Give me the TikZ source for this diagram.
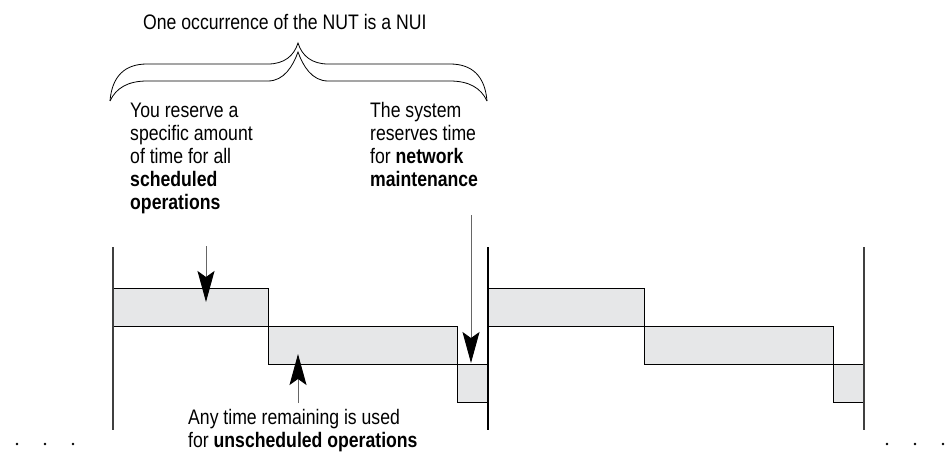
\documentclass[tikz,border=0pt]{standalone}
\usepackage{fontspec}
\setmainfont[FakeStretch=0.84]{Liberation Sans}
\usetikzlibrary{arrows.meta}
\definecolor{boxgray}{HTML}{E6E7E8}
\begin{document}
\begin{tikzpicture}[x=1pt,y=-1pt,
  lbl/.style={font=\fontsize{21}{23}\selectfont, inner sep=0pt, anchor=base west, align=left},
  slot/.style={fill=boxgray, draw=black, line width=0.9pt},
  rail/.style={draw=black!75, line width=1.1pt},
  midrail/.style={draw=black, line width=2.6pt},
  ptr/.style={draw=black!60, line width=0.9pt, -{Stealth[length=31pt,width=17pt,inset=6pt,color=black]}},
  bracestroke/.style={draw=black, line width=0.8pt},
  dotmark/.style={fill=black}]
\useasboundingbox (0,0) rectangle (948,452);

% texts (base anchor = baseline of the last line)
\node[lbl] (title) at (143,30) {One occurrence of the NUT is a NUI};
\node[lbl] (you) at (130,209) {You reserve a\\specific amount\\of time for all\\\textbf{scheduled}\\\textbf{operations}};
\node[lbl] (sys) at (370,186) {The system\\reserves time\\for \textbf{network}\\\textbf{maintenance}};
\node[lbl] (any) at (188,447) {Any time remaining is used\\for \textbf{unscheduled operations}};

% brace (outline)
\draw[bracestroke] (110,101) .. controls (112,76) and (125,64) .. (147,64) -- (268,64)
  .. controls (284,64) and (294,56) .. (298,43)
  .. controls (302,56) and (312,64) .. (328,64) -- (450,64)
  .. controls (472,64) and (485,76) .. (487,101);
\draw[bracestroke] (110,101) .. controls (116,88) and (128,81) .. (147,81) -- (268,81)
  .. controls (284,81) and (293,66) .. (298,52)
  .. controls (303,66) and (312,81) .. (328,81) -- (450,81)
  .. controls (469,81) and (481,88) .. (487,101);

% slots
\draw[slot] (113,288) rectangle (268,326);
\draw[slot] (268,326) rectangle (457,364);
\draw[slot] (457,364) rectangle (488,402);
\draw[slot] (488,288) rectangle (644,326);
\draw[slot] (644,326) rectangle (833,364);
\draw[slot] (833,364) rectangle (864,402);

% rails
\coordinate (l1) at (113,247); \coordinate (l2) at (113,430);
\coordinate (m1) at (488,247); \coordinate (m2) at (488,430);
\coordinate (r1) at (864,247); \coordinate (r2) at (864,430);
\draw[rail] (l1) -- (l2);
\draw[rail] (r1) -- (r2);
\draw[midrail] (m1) -- (m2);

% arrows
\coordinate (a1s) at (206,246); \coordinate (a1t) at (206,302);
\coordinate (a2s) at (471,215); \coordinate (a2t) at (471,363);
\coordinate (a3s) at (298,403); \coordinate (a3t) at (298,354);
\draw[ptr] (a1s) -- (a1t);
\draw[ptr] (a2s) -- (a2t);
\draw[ptr] (a3s) -- (a3t);

% dots
\foreach \x in {17,45,73,887,915,943} \fill[dotmark] (\x,444) circle (1.4);
\end{tikzpicture}
\end{document}
